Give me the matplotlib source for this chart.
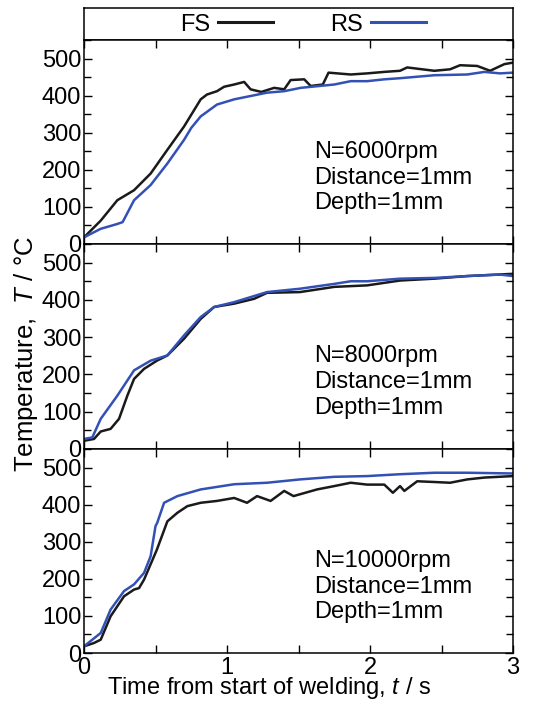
import matplotlib
matplotlib.use("Agg")
import matplotlib.pyplot as plt
from matplotlib.lines import Line2D
from matplotlib.ticker import MultipleLocator, FixedLocator

plt.rcParams['font.family'] = ['Liberation Sans', 'DejaVu Sans']
plt.rcParams['mathtext.fontset'] = 'custom'
plt.rcParams['mathtext.it'] = 'Liberation Sans:italic'
plt.rcParams['mathtext.rm'] = 'Liberation Sans'

# ---- Data (time in s, temperature in °C) ----
t1_fs = [0.0, 0.117, 0.233, 0.35, 0.466, 0.583, 0.70, 0.816, 0.86, 0.93, 0.98, 1.05, 1.12, 1.165, 1.24, 1.33,
         1.40, 1.445, 1.54, 1.585, 1.67, 1.71, 1.865, 1.98, 2.10, 2.21, 2.26, 2.45, 2.56, 2.63, 2.75, 2.84, 2.94, 3.0]
T1_fs = [18, 63, 118, 145, 190, 254, 317, 390, 403, 412, 424, 430, 437, 417, 410, 421,
         417, 442, 444, 426, 430, 462, 457, 460, 464, 467, 476, 467, 471, 482, 480, 467, 485, 489]
t1_rs = [0.0, 0.117, 0.233, 0.27, 0.35, 0.466, 0.583, 0.70, 0.75, 0.816, 0.93, 1.05, 1.165, 1.28, 1.40, 1.515,
         1.75, 1.865, 1.98, 2.10, 2.21, 2.45, 2.68, 2.80, 2.91, 3.0]
T1_rs = [18, 41, 54, 59, 118, 159, 217, 281, 313, 344, 376, 390, 399, 408, 412, 421,
         430, 439, 439, 444, 447, 455, 457, 464, 460, 462]

t2_fs = [0.0, 0.07, 0.117, 0.186, 0.245, 0.303, 0.35, 0.42, 0.51, 0.583, 0.70, 0.816, 0.91, 1.05, 1.19, 1.28,
         1.51, 1.75, 1.98, 2.21, 2.45, 2.68, 3.0]
T2_fs = [22, 27, 47, 54, 81, 143, 188, 215, 237, 251, 296, 349, 381, 390, 403, 419,
         421, 435, 439, 452, 457, 464, 470]
t2_rs = [0.0, 0.058, 0.117, 0.233, 0.35, 0.466, 0.583, 0.70, 0.816, 0.91, 1.05, 1.28, 1.51, 1.75, 1.865, 1.98,
         2.21, 2.45, 2.68, 2.91, 3.0]
T2_rs = [27, 31, 81, 143, 211, 237, 251, 305, 354, 381, 394, 421, 430, 443, 450, 450,
         457, 459, 464, 468, 464]

t3_fs = [0.0, 0.07, 0.117, 0.186, 0.28, 0.35, 0.385, 0.42, 0.51, 0.583, 0.653, 0.723, 0.816, 0.93, 1.05, 1.14,
         1.21, 1.305, 1.4, 1.465, 1.63, 1.75, 1.865, 1.98, 2.10, 2.16, 2.21, 2.24, 2.33, 2.45, 2.56, 2.68, 2.80, 3.0]
T3_fs = [18, 27, 36, 99, 153, 171, 175, 198, 279, 355, 378, 396, 405, 410, 418, 405,
         423, 410, 437, 423, 441, 450, 459, 454, 454, 432, 450, 437, 463, 461, 459, 468, 473, 477]
t3_rs = [0.0, 0.117, 0.186, 0.28, 0.35, 0.42, 0.466, 0.50, 0.512, 0.56, 0.653, 0.816, 1.05, 1.28, 1.51, 1.75,
         1.98, 2.21, 2.45, 2.68, 3.0]
T3_rs = [18, 54, 117, 167, 185, 216, 261, 342, 351, 405, 423, 441, 455, 459, 468, 475,
         477, 482, 486, 486, 484]

panels = [
    (t1_fs, T1_fs, t1_rs, T1_rs, "N=6000rpm\nDistance=1mm\nDepth=1mm"),
    (t2_fs, T2_fs, t2_rs, T2_rs, "N=8000rpm\nDistance=1mm\nDepth=1mm"),
    (t3_fs, T3_fs, t3_rs, T3_rs, "N=10000rpm\nDistance=1mm\nDepth=1mm"),
]
x_ticks = [0, 0.5, 1, 1.5, 2, 2.5, 3]
x_labels = ["0", "", "1", "", "2", "", "3"]
y_ticks = [0, 100, 200, 300, 400, 500]

FS_COLOR = "#1a1a1a"
RS_COLOR = "#3351b5"
FS = 17

W, H = 539, 706
fig = plt.figure(figsize=(W / 100, H / 100), dpi=100)

left, right = 84 / W, 513 / W
tops = [40, 244, 449]
bottoms = [244, 449, 653]

def fr(y):
    return 1 - y / H

# legend box
axl = fig.add_axes([left, fr(40), right - left, fr(8) - fr(40)])
axl.set_xticks([])
axl.set_yticks([])
for s in axl.spines.values():
    s.set_linewidth(1.1)
handles = [Line2D([], [], color=FS_COLOR, lw=2.2), Line2D([], [], color=RS_COLOR, lw=2.2)]
axl.legend(handles, ["FS", "RS"], loc="center", ncol=2, markerfirst=False, frameon=False,
           fontsize=FS, handlelength=2.3, handletextpad=0.35, columnspacing=2.45,
           borderpad=0, bbox_to_anchor=(0.51, 0.48))

for i, (tf, Tf, tr, Tr, txt) in enumerate(panels):
    ax = fig.add_axes([left, fr(bottoms[i]), right - left, fr(tops[i]) - fr(bottoms[i])])
    ax.plot(tf, Tf, color=FS_COLOR, lw=1.8)
    ax.plot(tr, Tr, color=RS_COLOR, lw=1.8)
    ax.set_xlim(0, 3)
    ax.set_ylim(0, 550)
    ax.set_xticks(x_ticks)
    ax.yaxis.set_major_locator(FixedLocator(y_ticks))
    ax.yaxis.set_minor_locator(MultipleLocator(50))
    ax.tick_params(which="both", direction="in", top=True, right=True, width=1.0)
    ax.tick_params(which="major", length=6)
    ax.tick_params(which="minor", length=5)
    ax.tick_params(axis="y", labelsize=FS, pad=2)
    ax.tick_params(axis="x", labelsize=FS, pad=3)
    ax.set_yticklabels([str(v) for v in y_ticks])
    if i == 2:
        ax.set_xticklabels(x_labels)
    else:
        ax.set_xticklabels([])
    for s in ax.spines.values():
        s.set_linewidth(1.1)
    ax.text(0.536, 0.505, txt, transform=ax.transAxes, fontsize=FS, va="top", ha="left",
            linespacing=1.22)

fig.text(0.5, fr(688), "Time from start of welding, $\\mathit{t}$ / s", ha="center", va="center", fontsize=FS)
fig.text(26 / W, fr(354), "Temperature,  $\\mathit{T}$ / °C", ha="center", va="center", rotation=90, fontsize=18.5)

fig.savefig("out.png", dpi=100)
